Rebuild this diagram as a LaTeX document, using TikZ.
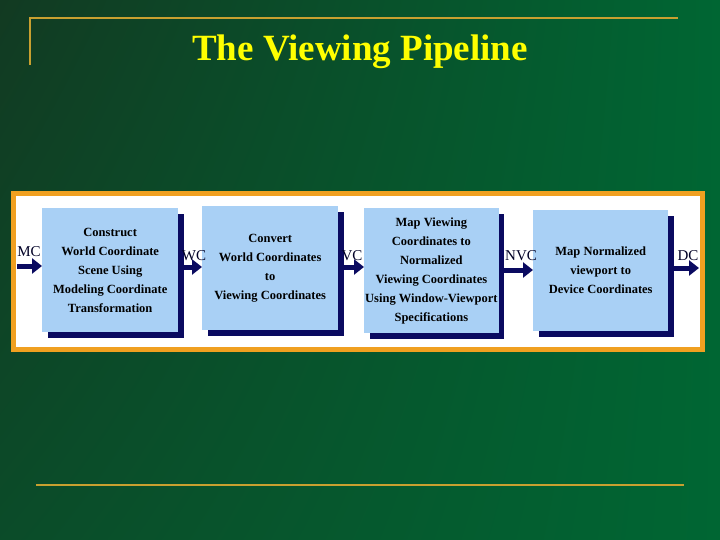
\documentclass[tikz,border=0pt]{standalone}
\usepackage{fontspec}
\setmainfont{Liberation Serif}
\usetikzlibrary{arrows.meta,shadings}
\definecolor{gold}{HTML}{C8A030}
\definecolor{boxblue}{HTML}{A9D0F5}
\definecolor{navy}{HTML}{0A0A60}
\definecolor{frameor}{HTML}{F0A020}
\definecolor{bgdark}{HTML}{123A22}
\definecolor{bglight}{HTML}{006633}
\tikzset{
  stage/.style={fill=boxblue,minimum width=136pt,minimum height=124pt,anchor=north west,align=center,inner sep=1pt,font=\bfseries\fontsize{12.5}{19}\selectfont},
  shadowbox/.style={fill=navy},
  flow/.style={draw=navy,line width=5pt,-{Triangle[length=10pt,width=15pt]}},
  lab/.style={font=\fontsize{15}{16}\selectfont,text=black!85!blue,inner sep=0pt}
}
\begin{document}
\begin{tikzpicture}[x=1pt,y=-1pt]
\useasboundingbox (0,0) rectangle (720,540);
\shade[upper left=bgdark, upper right=bglight, lower left=bgdark!60!bglight, lower right=bglight] (0,0) rectangle (720,540);
\draw[gold,line width=1.5pt] (30,65) -- (30,18) -- (678,18);
\draw[gold,line width=1.5pt] (36,485) -- (684,485);
\node[text={rgb,255:red,255;green,255;blue,0},font=\bfseries\fontsize{37}{38}\selectfont] (title) at (360,52) {The Viewing Pipeline};
\draw[frameor,line width=5pt,fill=white] (13,194) rectangle (702,349);
% shadows
\fill[shadowbox] (48,214) rectangle (184,338);
\fill[shadowbox] (208,212) rectangle (344,336);
\fill[shadowbox] (370,214) rectangle (504,339);
\fill[shadowbox] (539,216) rectangle (674,337);
\node[stage] (b1) at (42,208) {Construct\\World Coordinate\\Scene Using\\Modeling Coordinate\\Transformation};
\node[stage] (b2) at (202,206) {Convert\\World Coordinates\\to\\Viewing Coordinates};
\node[stage,minimum width=134pt,minimum height=125pt] (b3) at (364,208) {Map Viewing\\Coordinates to\\Normalized\\Viewing Coordinates\\Using Window-Viewport\\Specifications};
\node[stage,minimum width=135pt,minimum height=121pt] (b4) at (533,210) {Map Normalized\\viewport to\\Device Coordinates};
\coordinate (s0) at (17,266);
\coordinate (e5) at (699,268);
\draw[flow] (s0) -- (b1.west |- s0);
\draw[flow] (184,267) -- (b2.west |- 0,267);
\draw[flow] (344,267) -- (b3.west |- 0,267);
\draw[flow] (504,270) -- (b4.west |- 0,270);
\draw[flow] (674,268) -- (e5);
\node[lab] (mc) at (29,252) {MC};
\node[lab] (wc) at (194,256) {WC};
\node[lab] (vc) at (352,256) {VC};
\node[lab] (nvc) at (521,256) {NVC};
\node[lab] (dc) at (688,256) {DC};
\end{tikzpicture}
\end{document}
